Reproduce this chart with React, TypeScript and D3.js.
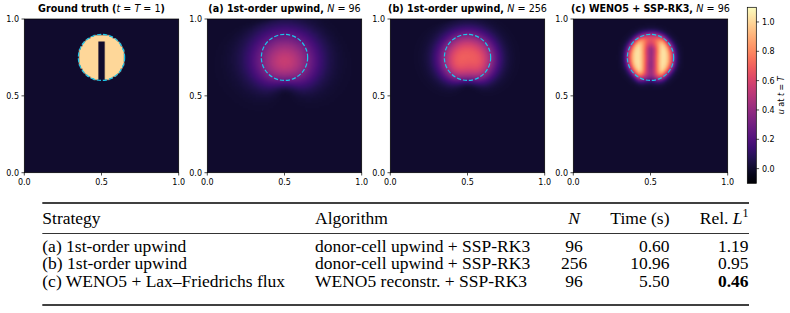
import React, { useMemo } from 'react';
import * as d3 from 'd3';

// ---- table content ----
const strategies = ['(a) 1st-order upwind', '(b) 1st-order upwind', '(c) WENO5 + Lax–Friedrichs flux'];
const algorithms = ['donor-cell upwind + SSP-RK3', 'donor-cell upwind + SSP-RK3', 'WENO5 reconstr. + SSP-RK3'];
const gridSizes = [96, 256, 96];
const runTimes = ['0.60', '10.96', '5.50'];
const relL1 = ['1.19', '0.95', '0.46'];
const bestRow = 2;

// ---- panels ----
const panelLabels = ['(a) 1st-order upwind', '(b) 1st-order upwind', '(c) WENO5 + SSP-RK3'];
const panelSchemes: ('upwind' | 'weno')[] = ['upwind', 'upwind', 'weno'];
const panelGrid = [96, 256, 96];
const truthGrid = 96;

// ---- Zalesak slotted disk, one full solid-body rotation ----
const diskCenter = [0.5, 0.75];
const diskRadius = 0.15;
const slotHalfWidth = 0.025;
const slotTop = 0.85;
const finalTime = 1;

// ---- colour / axis ticks ----
const colorDomain = [-0.1, 1.1];
const colorTicks = [0, 0.2, 0.4, 0.6, 0.8, 1.0];
const axisTicks = [0, 0.5, 1];

const G = 3; // ghost cells

function initialField(N: number, M: number, out: Float64Array) {
  for (let j = 0; j < N; j++) {
    const y = (j + 0.5) / N;
    for (let i = 0; i < N; i++) {
      const x = (i + 0.5) / N;
      const r = Math.hypot(x - diskCenter[0], y - diskCenter[1]);
      const inSlot = Math.abs(x - diskCenter[0]) < slotHalfWidth && y < slotTop;
      out[(j + G) * M + i + G] = r <= diskRadius && !inSlot ? 1 : 0;
    }
  }
}

function w5(a: number, b: number, c: number, d: number, e: number) {
  const eps = 1e-6;
  const t0 = a - 2 * b + c, s0 = a - 4 * b + 3 * c;
  const t1 = b - 2 * c + d, s1 = b - d;
  const t2 = c - 2 * d + e, s2 = 3 * c - 4 * d + e;
  const b0 = (13 / 12) * t0 * t0 + 0.25 * s0 * s0 + eps;
  const b1 = (13 / 12) * t1 * t1 + 0.25 * s1 * s1 + eps;
  const b2 = (13 / 12) * t2 * t2 + 0.25 * s2 * s2 + eps;
  const a0 = 0.1 / (b0 * b0), a1 = 0.6 / (b1 * b1), a2 = 0.3 / (b2 * b2);
  return (a0 * (2 * a - 7 * b + 11 * c) + a1 * (-b + 5 * c + 2 * d) + a2 * (2 * c + 5 * d - e)) / (6 * (a0 + a1 + a2));
}

function simulate(N: number, scheme: 'upwind' | 'weno') {
  const M = N + 2 * G;
  const size = M * M;
  const q = new Float64Array(size);
  const q1 = new Float64Array(size);
  const q2 = new Float64Array(size);
  const L = new Float64Array(size);
  const h = new Float64Array(N + 1);
  initialField(N, M, q);

  // u = -2π(y-½) depends on the row only, v = 2π(x-½) on the column only
  const U = new Float64Array(N);
  const V = new Float64Array(N);
  for (let k = 0; k < N; k++) {
    const c = (k + 0.5) / N - 0.5;
    U[k] = -2 * Math.PI * c;
    V[k] = 2 * Math.PI * c;
  }
  const umax = 2 * Math.PI * (0.5 - 0.5 / N); // max |u| (and |v|)
  const alpha = Math.SQRT2 * umax; // max speed |(u, v)| over the grid

  const upwindRHS = (s: Float64Array, out: Float64Array) => {
    for (let j = 0; j < N; j++) {
      const u = U[j];
      const row = (j + G) * M + G;
      for (let i = 0; i < N; i++) {
        const k = row + i;
        const c = s[k];
        const v = V[i];
        const fx = u > 0 ? u * (c - s[k - 1]) : u * (s[k + 1] - c);
        const fy = v > 0 ? v * (c - s[k - M]) : v * (s[k + M] - c);
        out[k] = -N * (fx + fy);
      }
    }
  };

  // WENO5 with global Lax–Friedrichs flux splitting f± = ½(u ± α) q
  const wenoRHS = (s: Float64Array, out: Float64Array) => {
    for (let j = 0; j < N; j++) {
      const u = U[j];
      const cp = 0.5 * (u + alpha);
      const cm = 0.5 * (u - alpha);
      const row = (j + G) * M + G;
      for (let f = 0; f <= N; f++) {
        const l = row + f - 1;
        const r = row + f;
        h[f] =
          cp * w5(s[l - 2], s[l - 1], s[l], s[l + 1], s[l + 2]) +
          cm * w5(s[r + 2], s[r + 1], s[r], s[r - 1], s[r - 2]);
      }
      for (let i = 0; i < N; i++) out[row + i] = -N * (h[i + 1] - h[i]);
    }
    const M2 = 2 * M;
    for (let i = 0; i < N; i++) {
      const v = V[i];
      const cp = 0.5 * (v + alpha);
      const cm = 0.5 * (v - alpha);
      const col = G * M + i + G;
      for (let f = 0; f <= N; f++) {
        const l = col + (f - 1) * M;
        const r = col + f * M;
        h[f] =
          cp * w5(s[l - M2], s[l - M], s[l], s[l + M], s[l + M2]) +
          cm * w5(s[r + M2], s[r + M], s[r], s[r - M], s[r - M2]);
      }
      for (let j = 0; j < N; j++) out[col + j * M] += -N * (h[j + 1] - h[j]);
    }
  };

  const rhs = scheme === 'upwind' ? upwindRHS : wenoRHS;
  const cfl = 0.9;
  const nSteps = Math.ceil((finalTime * N * 2 * umax) / cfl);
  const dt = finalTime / nSteps;

  // SSP-RK3 (Shu–Osher)
  for (let n = 0; n < nSteps; n++) {
    rhs(q, L);
    for (let k = 0; k < size; k++) q1[k] = q[k] + dt * L[k];
    rhs(q1, L);
    for (let k = 0; k < size; k++) q2[k] = 0.75 * q[k] + 0.25 * (q1[k] + dt * L[k]);
    rhs(q2, L);
    for (let k = 0; k < size; k++) q[k] = q[k] / 3 + (2 / 3) * (q2[k] + dt * L[k]);
  }
  return extract(q, N, M);
}

function extract(q: Float64Array, N: number, M: number) {
  const out = new Float64Array(N * N);
  for (let j = 0; j < N; j++) for (let i = 0; i < N; i++) out[j * N + i] = q[(j + G) * M + i + G];
  return out;
}

function truthField(N: number) {
  const M = N + 2 * G;
  const q = new Float64Array(M * M);
  initialField(N, M, q);
  return extract(q, N, M);
}

const color = d3.scaleSequential(d3.interpolateMagma).domain(colorDomain as [number, number]).clamp(true);

function fieldToURL(f: Float64Array, N: number) {
  const lut: number[][] = [];
  const LUTN = 1024;
  for (let k = 0; k < LUTN; k++) {
    const c = d3.rgb(color(colorDomain[0] + ((colorDomain[1] - colorDomain[0]) * k) / (LUTN - 1)));
    lut.push([c.r, c.g, c.b]);
  }
  const canvas = document.createElement('canvas');
  canvas.width = N;
  canvas.height = N;
  const ctx = canvas.getContext('2d')!;
  const img = ctx.createImageData(N, N);
  for (let j = 0; j < N; j++) {
    for (let i = 0; i < N; i++) {
      const v = f[j * N + i];
      let t = Math.round(((v - colorDomain[0]) / (colorDomain[1] - colorDomain[0])) * (LUTN - 1));
      t = Math.max(0, Math.min(LUTN - 1, t));
      const p = ((N - 1 - j) * N + i) * 4;
      img.data[p] = lut[t][0];
      img.data[p + 1] = lut[t][1];
      img.data[p + 2] = lut[t][2];
      img.data[p + 3] = 255;
    }
  }
  ctx.putImageData(img, 0, 0);
  return canvas.toDataURL();
}

function buildImages() {
  const imgs = [fieldToURL(truthField(truthGrid), truthGrid)];
  panelSchemes.forEach((s, k) => imgs.push(fieldToURL(simulate(panelGrid[k], s), panelGrid[k])));
  return imgs;
}

const PW = 154.4;
const PH = 153.7;
const PY = 19;
const PX0 = 24.3;
const PSTEP = 183;
const SANS = "'DejaVu Sans', sans-serif";
const SERIF = "'Liberation Serif', 'Times New Roman', serif";

function Title({ k, cx }: { k: number; cx: number }) {
  const y = 12.4;
  if (k === 0) {
    return (
      <text x={cx} y={y} textAnchor="middle" fontSize={9.6} fontFamily={SANS}>
        <tspan fontWeight="bold">Ground truth (</tspan>
        <tspan fontStyle="italic">t</tspan>
        <tspan> = </tspan>
        <tspan fontStyle="italic">T</tspan>
        <tspan> = 1</tspan>
        <tspan fontWeight="bold">)</tspan>
      </text>
    );
  }
  return (
    <text x={cx} y={y} textAnchor="middle" fontSize={9.6} fontFamily={SANS}>
      <tspan fontWeight="bold">{panelLabels[k - 1]}, </tspan>
      <tspan fontStyle="italic">N</tspan>
      <tspan> = {panelGrid[k - 1]}</tspan>
    </text>
  );
}

export default function App() {
  const images = useMemo(() => buildImages(), []);

  const cbX = 747.3;
  const cbW = 9;
  const cbTop = 7.3;
  const cbBot = 183.3;
  const cbScale = d3.scaleLinear().domain(colorDomain).range([cbBot, cbTop]);
  const gradStops = d3.range(0, 1.0001, 0.05);

  // table layout
  const tRuleTop = 203;
  const tRuleMid = 233.5;
  const tRuleBot = 305;
  const tHeadY = 224;
  const rowY = [251.5, 269, 286.5];
  const tLeft = 42.3;
  const tRight = 749;
  const colAlg = 315;
  const colN = 574;
  const colTime = 669.5;
  const colRel = 748.5;
  const fs = 17.5;

  return (
    <svg width={790} height={313} style={{ position: 'absolute', left: 0, top: 0 }}>
      <rect width={790} height={313} fill="#fff" />
      <defs>
        <linearGradient id="cbar" x1="0" y1="1" x2="0" y2="0">
          {gradStops.map((t) => (
            <stop key={t} offset={t} stopColor={d3.interpolateMagma(t)} />
          ))}
        </linearGradient>
      </defs>

      {images.map((url, k) => {
        const x0 = PX0 + k * PSTEP;
        const xs = d3.scaleLinear().domain([0, 1]).range([x0, x0 + PW]);
        const ys = d3.scaleLinear().domain([0, 1]).range([PY + PH, PY]);
        return (
          <g key={k}>
            <image href={url} x={x0} y={PY} width={PW} height={PH} preserveAspectRatio="none" />
            <ellipse
              cx={xs(diskCenter[0])}
              cy={ys(diskCenter[1])}
              rx={xs(diskRadius) - xs(0)}
              ry={ys(0) - ys(diskRadius)}
              fill="none"
              stroke="#1cc6ea"
              strokeWidth={1.2}
              strokeDasharray="4.2 1.9"
            />
            <rect x={x0} y={PY} width={PW} height={PH} fill="none" stroke="#000" strokeWidth={0.7} />
            {axisTicks.map((t) => (
              <g key={'x' + t}>
                <line x1={xs(t)} x2={xs(t)} y1={PY + PH} y2={PY + PH + 2.8} stroke="#000" strokeWidth={0.7} />
                <text x={xs(t)} y={PY + PH + 12} textAnchor="middle" fontSize={8} fontFamily={SANS}>
                  {t.toFixed(1)}
                </text>
              </g>
            ))}
            {axisTicks.map((t) => (
              <g key={'y' + t}>
                <line x1={x0} x2={x0 - 2.8} y1={ys(t)} y2={ys(t)} stroke="#000" strokeWidth={0.7} />
                <text x={x0 - 5.3} y={ys(t) + 2.9} textAnchor="end" fontSize={8} fontFamily={SANS}>
                  {t.toFixed(1)}
                </text>
              </g>
            ))}
            <Title k={k} cx={x0 + PW / 2} />
          </g>
        );
      })}

      {/* colour bar */}
      <rect x={cbX} y={cbTop} width={cbW} height={cbBot - cbTop} fill="url(#cbar)" stroke="#000" strokeWidth={0.7} />
      {colorTicks.map((t) => (
        <g key={t}>
          <line x1={cbX + cbW} x2={cbX + cbW + 2.8} y1={cbScale(t)} y2={cbScale(t)} stroke="#000" strokeWidth={0.7} />
          <text x={cbX + cbW + 5.6} y={cbScale(t) + 2.9} fontSize={8} fontFamily={SANS}>
            {t.toFixed(1)}
          </text>
        </g>
      ))}
      <text
        transform={`translate(${784.3},${(cbTop + cbBot) / 2}) rotate(-90)`}
        textAnchor="middle"
        fontSize={8}
        fontFamily={SANS}
      >
        <tspan fontStyle="italic">u</tspan>
        <tspan> at </tspan>
        <tspan fontStyle="italic">t</tspan>
        <tspan> = </tspan>
        <tspan fontStyle="italic">T</tspan>
      </text>

      {/* results table */}
      <g fontFamily={SERIF} fontSize={fs} fill="#000">
        <line x1={tLeft} x2={tRight} y1={tRuleTop} y2={tRuleTop} stroke="#000" strokeWidth={1.4} />
        <line x1={tLeft} x2={tRight} y1={tRuleMid} y2={tRuleMid} stroke="#000" strokeWidth={0.8} />
        <line x1={tLeft} x2={tRight} y1={tRuleBot} y2={tRuleBot} stroke="#000" strokeWidth={1.4} />
        <text x={tLeft} y={tHeadY}>Strategy</text>
        <text x={colAlg} y={tHeadY}>Algorithm</text>
        <text x={colN} y={tHeadY} textAnchor="middle" fontStyle="italic">N</text>
        <text x={colTime} y={tHeadY} textAnchor="end">Time (s)</text>
        <text x={colRel} y={tHeadY} textAnchor="end">
          Rel. <tspan fontStyle="italic">L</tspan>
          <tspan fontSize={12} dy={-7}>1</tspan>
        </text>
        {strategies.map((s, r) => (
          <g key={r}>
            <text x={tLeft} y={rowY[r]}>{s}</text>
            <text x={colAlg} y={rowY[r]}>{algorithms[r]}</text>
            <text x={colN} y={rowY[r]} textAnchor="middle">{gridSizes[r]}</text>
            <text x={colTime} y={rowY[r]} textAnchor="end">{runTimes[r]}</text>
            <text x={colRel} y={rowY[r]} textAnchor="end" fontWeight={r === bestRow ? 'bold' : 'normal'}>
              {relL1[r]}
            </text>
          </g>
        ))}
      </g>
    </svg>
  );
}
